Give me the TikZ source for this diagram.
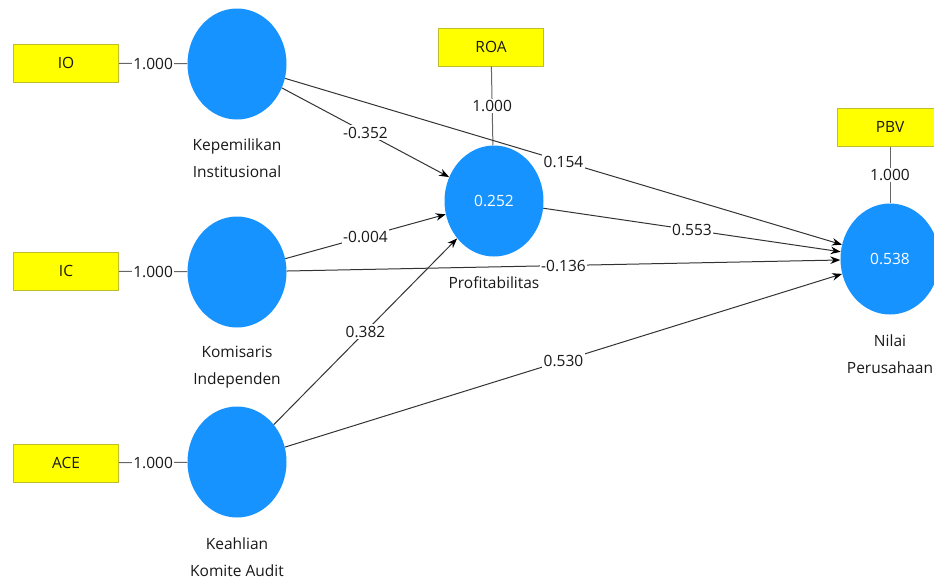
\documentclass[tikz,border=0pt]{standalone}
\usepackage{fontspec}
\setmainfont{Open Sans}
\usepackage{tikz}
\usetikzlibrary{shapes.geometric}
\usetikzlibrary{arrows.meta}
\definecolor{lvblue}{RGB}{22,147,255}
\definecolor{indyellow}{RGB}{255,255,0}
\definecolor{indborder}{RGB}{190,190,40}

\begin{document}
\begin{tikzpicture}[x=1pt,y=-1pt,font=\fontsize{15.5}{18}\selectfont,
	latent/.style={ellipse,fill=lvblue,minimum width=99pt,minimum height=111pt,inner sep=0pt,text=white},
	indicator/.style={rectangle,draw=indborder,line width=1pt,fill=indyellow,minimum width=105pt,minimum height=38pt,inner sep=0pt,text=black!90},
	loading/.style={draw=black!60,line width=1pt},
	effect/.style={draw=black!80,line width=1pt,-{Stealth[length=10pt,width=7.5pt,black]}},
	coef/.style={fill=white,inner sep=1.5pt,text=black!90},
	caption/.style={align=center,text=black!90,font=\fontsize{15.5}{27}\selectfont}]
	\useasboundingbox (0,0) rectangle (934,579);
	
	%LATENT VARIABLES
	\node[latent] (KI) at (237,64) {};
	\node[latent] (KomI) at (237,272) {};
	\node[latent] (KA) at (237,462) {};
	\node[latent] (PR) at (494,201) {0.252};
	\node[latent] (NP) at (890,259) {0.538};
	
	\node[caption] (KIcap) at (237,158) {Kepemilikan\\Institusional};
	\node[caption] (KomIcap) at (237,367) {Komisaris\\Independen};
	\node[caption] (KAcap) at (237,557) {Keahlian\\Komite Audit};
	\node[caption] (PRcap) at (494,283) {Profitabilitas};
	\node[caption] (NPcap) at (890,354) {Nilai\\Perusahaan};
	
	%INDICATORS
	\node[indicator] (IO) at (66,63) {IO};
	\node[indicator] (IC) at (66,271) {IC};
	\node[indicator] (ACE) at (66,463) {ACE};
	\node[indicator] (ROA) at (491,47) {ROA};
	\node[indicator] (PBV) at (890,127) {PBV};
	
	\foreach \i/\j in {IO/KI,IC/KomI,ACE/KA,ROA/PR,PBV/NP}{
		\draw[loading] (\i) -- node[coef]{1.000} (\j);
	}
	
	%PATH COEFFICIENTS
	\foreach \a/\b/\c in {KI/PR/-0.352,KI/NP/0.154,KomI/PR/-0.004,KomI/NP/-0.136,KA/PR/0.382,KA/NP/0.530,PR/NP/0.553}{
		\draw[effect] (\a) -- node[coef]{\c} (\b);
	}
\end{tikzpicture}
\end{document}
